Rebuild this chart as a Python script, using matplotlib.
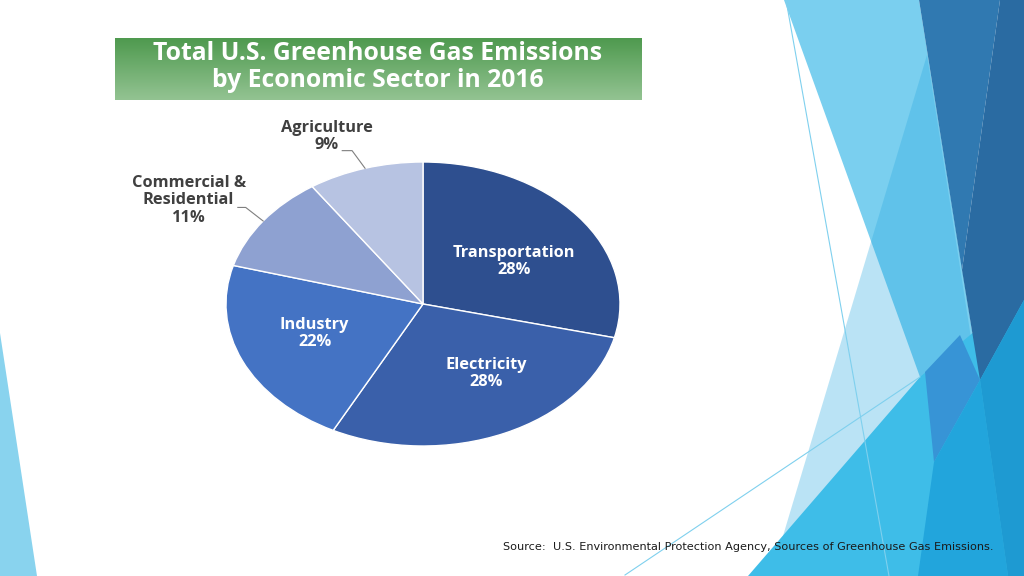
#!/usr/bin/env python3
"""Slide: Total U.S. greenhouse gas emissions by economic sector (2016)."""
import numpy as np
import matplotlib
matplotlib.use("Agg")
import matplotlib.pyplot as plt
from matplotlib.colors import LinearSegmentedColormap

# --- Dati ---
sectors = ["Transportation", "Electricity", "Industry",
           "Commercial &\nResidential", "Agriculture"]
shares = [28.5, 28.4, 21.6, 11.0, 9.4]
pct_labels = ["28%", "28%", "22%", "11%", "9%"]
slice_colors = ["#2E4F8F", "#3A60AA", "#4473C4", "#8EA1D1", "#B7C3E2"]
inside = [True, True, True, False, False]

title = "Total U.S. Greenhouse Gas Emissions\nby Economic Sector in 2016"
source = "Source:  U.S. Environmental Protection Agency, Sources of Greenhouse Gas Emissions."

W, H = 1024, 576
fig = plt.figure(figsize=(W / 100, H / 100), dpi=100)

# --- Sfondo (coordinate in pixel) ---
bg = fig.add_axes([0, 0, 1, 1])
bg.set_xlim(0, W)
bg.set_ylim(H, 0)
bg.axis("off")

# decorazioni a destra e a sinistra
bg.fill([0, 37, 0], [333, 576, 576], color="#89D3EE", lw=0)
bg.fill([784, 919, 980, 920], [0, 0, 380, 377], color="#7ACFEF", lw=0)
bg.fill([927, 771, 1008], [55, 576, 576], color="#2AA9E0", alpha=0.32, lw=0)
bg.fill([748, 920, 1024, 1024], [576, 377, 290, 576], color="#3EBDE8", lw=0)
bg.fill([919, 1000, 962], [0, 0, 270], color="#3079B1", lw=0)
bg.fill([1000, 1024, 1024, 980, 962], [0, 0, 300, 380, 270], color="#2A6BA2", lw=0)
bg.fill([925, 960, 980, 934], [372, 335, 380, 462], color="#3794D6", lw=0)
bg.fill([934, 980, 1008, 918], [462, 380, 576, 576], color="#22A5DC", lw=0)
bg.fill([980, 1024, 1024, 1008], [380, 300, 576, 576], color="#1E9AD2", lw=0)
bg.plot([786, 889], [0, 576], color="#7FD0EE", lw=0.8)
bg.plot([625, 920], [575, 377], color="#7FD0EE", lw=0.8)

# banda del titolo con sfumatura verde
green = LinearSegmentedColormap.from_list("g", ["#4F9A4F", "#93C392"])
bg.imshow(np.linspace(0, 1, 64).reshape(-1, 1), cmap=green, aspect="auto",
          extent=(115, 642, 100, 38), zorder=1)
bg.text(378, 67, title, ha="center", va="center", color="white",
        fontsize=17.8, fontweight="bold", family="Open Sans",
        linespacing=1.1, zorder=2)

bg.text(503, 547, source, ha="left", va="center", color="#1A1A1A",
        fontsize=8.1, family="DejaVu Sans")

# --- Torta (ellittica, come nell'immagine) ---
ax = fig.add_axes([226 / W, (H - 446) / H, 394 / W, 284 / H])
wedges, _ = ax.pie(shares, colors=slice_colors, startangle=90, counterclock=False,
                   wedgeprops=dict(edgecolor="white", linewidth=1))
ax.set_aspect("auto")
ax.set_xlim(-1, 1)
ax.set_ylim(-1, 1)

label_font = dict(fontsize=11.8, fontweight="bold", family="Open Sans",
                  ha="center", va="center", linespacing=1.1)
# posizioni delle etichette (coordinate della torta) e gomiti delle linee guida
text_pos = {0: (0.46, 0.30), 1: (0.32, -0.49), 2: (-0.55, -0.21),
            3: (-1.19, 0.73), 4: (-0.49, 1.18)}
outside_elbow = {3: (-0.94, -0.90, 0.68), 4: (-0.41, -0.36, 1.08)}

for i, w in enumerate(wedges):
    mid = np.deg2rad((w.theta1 + w.theta2) / 2)
    text = f"{sectors[i]}\n{pct_labels[i]}"
    tx, ty = text_pos[i]
    if inside[i]:
        ax.text(tx, ty, text, color="white", **label_font)
    else:
        ax.text(tx, ty, text, color="#404040", clip_on=False, **label_font)
        x0, x1, ye = outside_elbow[i]
        ax.plot([x0, x1, np.cos(mid)], [ye, ye, np.sin(mid)],
                color="#7F7F7F", lw=0.8, clip_on=False)

fig.savefig("out.png", dpi=100)
